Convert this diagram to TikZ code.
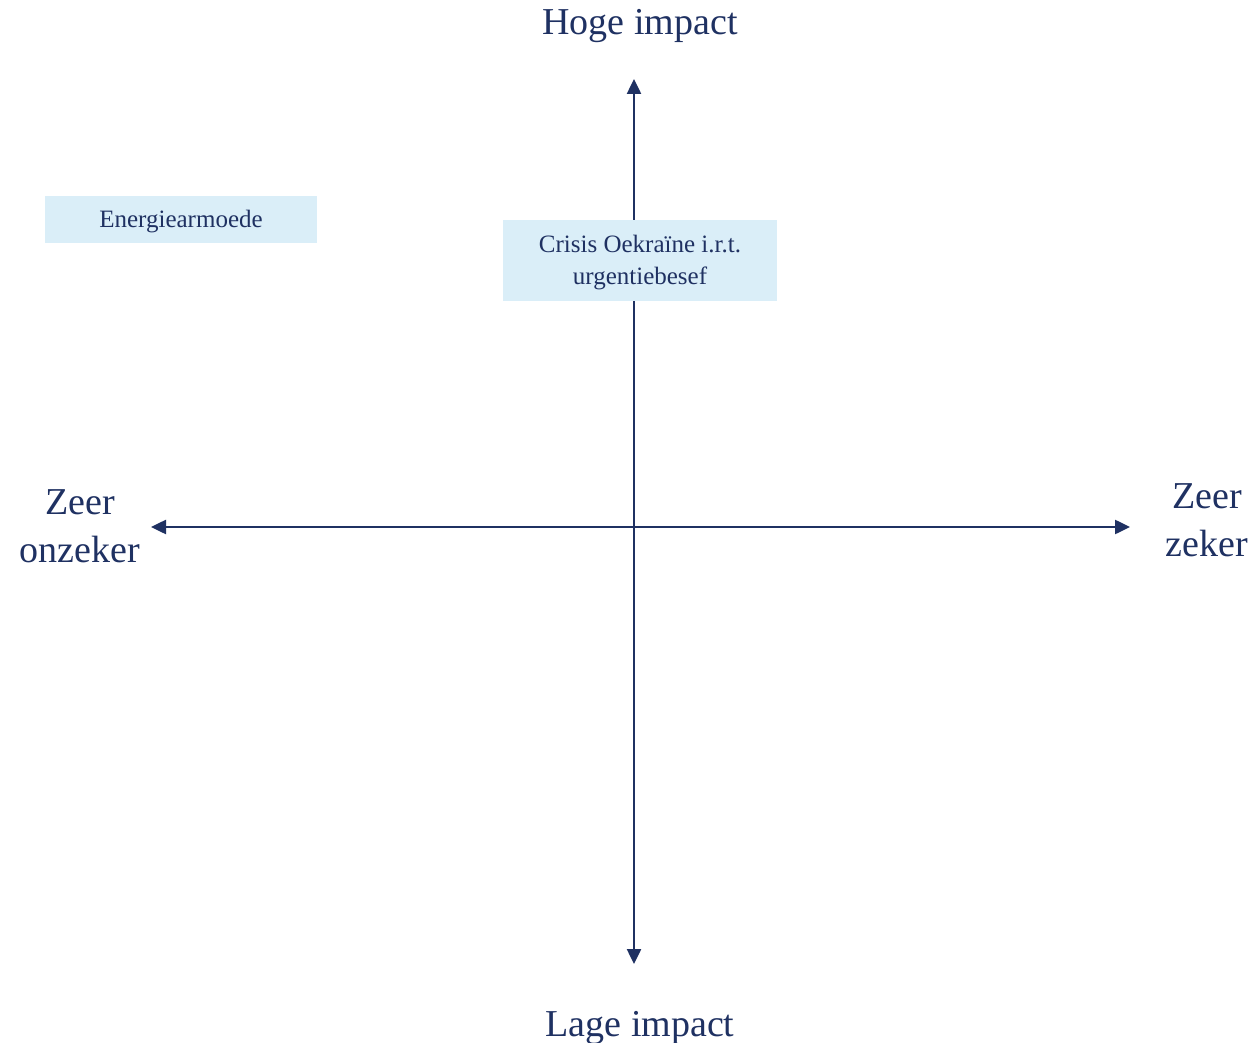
\documentclass[tikz,border=0pt]{standalone}
\usepackage{fontspec}
\setmainfont{Liberation Serif}
\usetikzlibrary{arrows.meta}
\definecolor{navy}{HTML}{1F3162}
\definecolor{paleblue}{HTML}{DAEEF8}
\begin{document}
\begin{tikzpicture}[x=1pt,y=-1pt,
  axis/.style={draw=navy,line width=2.5pt,-{Triangle[length=15pt,width=14pt]}},
  axislabel/.style={text=navy,font=\fontsize{38}{48}\selectfont,align=center,inner sep=0pt},
  itembox/.style={text=navy,font=\fontsize{25}{32}\selectfont,align=center,inner sep=0pt}]
  \useasboundingbox (0,0) rectangle (1259,1043);
  % axis ends
  \coordinate (o) at (634,527);
  \coordinate (top) at (634,79);
  \coordinate (bottom) at (634,964);
  \coordinate (left) at (151,527);
  \coordinate (right) at (1130,527);
  % axes
  \draw[axis] (o) -- (top);
  \draw[axis] (o) -- (bottom);
  \draw[axis] (o) -- (left);
  \draw[axis] (o) -- (right);
  % axis labels (base = baseline of the last line)
  \node[axislabel,anchor=base] (high) at (640,35) {Hoge impact};
  \node[axislabel,anchor=base] (low) at (640,1036) {Lage impact};
  \node[axislabel,anchor=base] (unsure) at (80,562) {Zeer\\onzeker};
  \node[axislabel,anchor=base] (sure) at (1207,556) {Zeer\\zeker};
  % items
  \path[fill=paleblue] (45,196) rectangle (317,243);
  \node[itembox,anchor=base] (energy) at (181,228) {Energiearmoede};
  \path[fill=paleblue] (503,220) rectangle (777,301);
  \node[itembox,anchor=base] (crisis) at (640,284) {Crisis Oekraïne i.r.t.\\urgentiebesef};
\end{tikzpicture}
\end{document}
